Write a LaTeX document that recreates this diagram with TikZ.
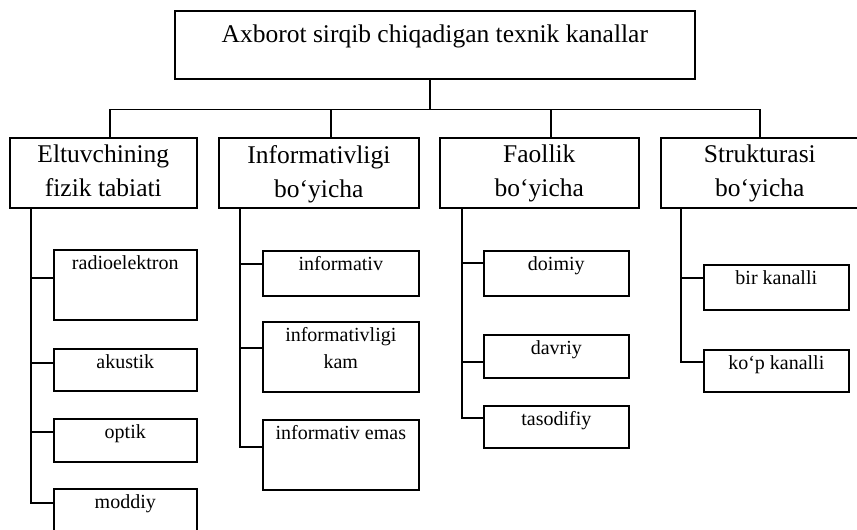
\documentclass[tikz,border=0pt]{standalone}
\usepackage{fontspec}
\setmainfont{Liberation Serif}
\usepackage{tikz}
\usetikzlibrary{
  positioning,
  calc
}

\tikzset{
  kbox/.style={draw, line width=1.6pt, anchor=north west, inner sep=0pt},
  kbig/.style={anchor=north, align=center, inner xsep=0pt, inner ysep=8pt,
    font=\fontsize{25.5}{34}\selectfont},
  ksmall/.style={anchor=north, align=center, inner xsep=0pt, inner ysep=6pt,
    font=\fontsize{20}{27}\selectfont},
  klink/.style={line width=1.4pt}
}

\begin{document}
\begin{tikzpicture}[
    x=1pt,
    y=-1pt
    ]
    
    \path[use as bounding box, clip] (0,0) rectangle (857,530);
    
    % yuqori blok
    \node[kbox, minimum width=520pt, minimum height=68pt,
      label={[kbig, inner ysep=15pt]north:Axborot sirqib chiqadigan texnik kanallar}]
      (kanal) at (174,10) {};
    
    % ikkinchi qator
    \node[kbox, minimum width=187pt, minimum height=70pt,
      label={[kbig]north:Eltuvchining\\fizik tabiati}] (fizik) at (9,137) {};
    \node[kbox, minimum width=200pt, minimum height=70pt,
      label={[kbig]north:Informativligi\\bo‘yicha}] (info) at (218,137) {};
    \node[kbox, minimum width=199pt, minimum height=70pt,
      label={[kbig]north:Faollik\\bo‘yicha}] (faol) at (439,137) {};
    \node[kbox, minimum width=198pt, minimum height=70pt,
      label={[kbig]north:Strukturasi\\bo‘yicha}] (strukt) at (660,137) {};
    
    % eltuvchi turlari
    \node[kbox, minimum width=143pt, minimum height=70pt,
      label={[ksmall]north:radioelektron}] (radio) at (53,249) {};
    \node[kbox, minimum width=143pt, minimum height=42pt,
      label={[ksmall]north:akustik}] (akus) at (53,348) {};
    \node[kbox, minimum width=143pt, minimum height=43pt,
      label={[ksmall]north:optik}] (optik) at (53,418) {};
    \node[kbox, minimum width=143pt, minimum height=60pt,
      label={[ksmall]north:moddiy}] (moddiy) at (53,488) {};
    
    % informativlik
    \node[kbox, minimum width=156pt, minimum height=45pt,
      label={[ksmall]north:informativ}] (inf) at (262,250) {};
    \node[kbox, minimum width=156pt, minimum height=70pt,
      label={[ksmall]north:informativligi\\kam}] (infkam) at (262,321) {};
    \node[kbox, minimum width=156pt, minimum height=70pt,
      label={[ksmall]north:informativ emas}] (infemas) at (262,419) {};
    
    % faollik
    \node[kbox, minimum width=145pt, minimum height=45pt,
      label={[ksmall]north:doimiy}] (doimiy) at (483,250) {};
    \node[kbox, minimum width=145pt, minimum height=43pt,
      label={[ksmall]north:davriy}] (davriy) at (483,334) {};
    \node[kbox, minimum width=145pt, minimum height=42pt,
      label={[ksmall]north:tasodifiy}] (tasod) at (483,405) {};
    
    % struktura
    \node[kbox, minimum width=145pt, minimum height=45pt,
      label={[ksmall]north:bir kanalli}] (bir) at (703,264) {};
    \node[kbox, minimum width=145pt, minimum height=42pt,
      label={[ksmall]north:ko‘p kanalli}] (kop) at (703,349) {};
    
    % ulanishlar
    \draw[klink] ([xshift=-5pt]kanal.south) -- ++(0,30) coordinate (hub);
    \coordinate (j1) at ([xshift=6.5pt]fizik.north);
    \coordinate (j2) at ([xshift=12pt]info.north);
    \coordinate (j3) at ([xshift=11.5pt]faol.north);
    \draw[klink] (j1) |- (hub) -| (strukt.north);
    \draw[klink] (j2) -- (j2 |- hub);
    \draw[klink] (j3) -- (j3 |- hub);
    
    \coordinate (r1) at ([xshift=22pt]fizik.south west);
    \coordinate (r2) at ([xshift=22pt]info.south west);
    \coordinate (r3) at ([xshift=23pt]faol.south west);
    \coordinate (r4) at ([xshift=21pt]strukt.south west);
    
    \draw[klink] (r1) |- ([yshift=-15pt]moddiy.north west);
    \draw[klink] (r2) |- ([yshift=-28pt]infemas.north west);
    \draw[klink] (r3) |- ([yshift=-13pt]tasod.north west);
    \draw[klink] (r4) |- ([yshift=-13pt]kop.north west);
    
    \foreach \n/\d/\r in {radio/29pt/r1, akus/15pt/r1, optik/14pt/r1,
      inf/14pt/r2, infkam/27pt/r2, doimiy/13pt/r3, davriy/28pt/r3, bir/14pt/r4}
      \draw[klink] ([yshift=-\d]\n.north west) coordinate (k) -- (k -| \r);
    
\end{tikzpicture}
\end{document}
